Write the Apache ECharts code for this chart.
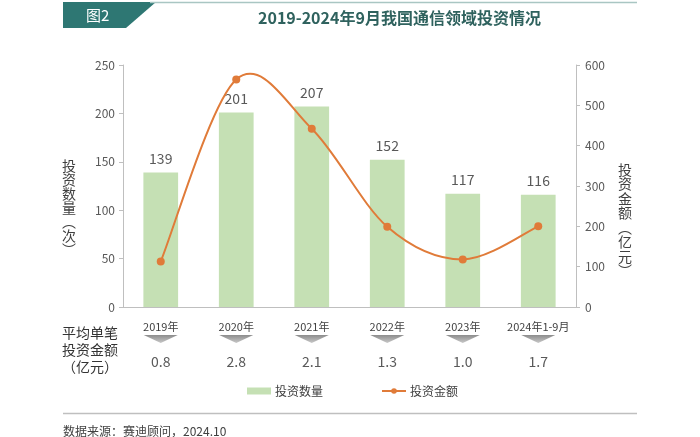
<!DOCTYPE html>
<html><head><meta charset="utf-8">
<script src="https://cdn.jsdelivr.net/npm/echarts@6/dist/echarts.min.js"></script>
<style>html,body{margin:0;padding:0;background:#fff}#c{width:700px;height:437px}</style>
</head><body><div id="c"></div>
<script>
const categories = ['2019年','2020年','2021年','2022年','2023年','2024年1-9月'];
const dealCount = [139, 201, 207, 152, 117, 116];
const dealAmount = [113, 564, 442, 199, 118, 200];
const avgAmount = ['0.8','2.8','2.1','1.3','1.0','1.7'];
const leftTicks = {min:0, max:250, interval:50};
const rightTicks = {min:0, max:600, interval:100};

const FONT = '"Noto Sans CJK SC", "Noto Sans", sans-serif';
const ORANGE = '#E07B39';
const chart = echarts.init(document.getElementById('c'));
chart.setOption({
  animation: false,
  textStyle: {fontFamily: FONT},
  title: {
    text: '2019-2024年9月我国通信领域投资情况',
    left: 253, top: 5,
    textStyle: {fontSize: 16, fontWeight: 'bold', color: '#2F625E', fontFamily: FONT}
  },
  legend: {
    left: 242, top: 380, itemWidth: 24, itemHeight: 7, itemGap: 58,
    textStyle: {fontSize: 12, color: '#404040', padding: [0,0,0,-1]},
    data: [{name:'投资数量', icon:'rect'},
           {name:'投资金额', lineStyle: {color: ORANGE, width: 2, opacity: 1}}]
  },
  grid: {left: 123, right: 124, top: 65, bottom: 130},
  xAxis: {
    type: 'category', data: categories,
    axisLine: {lineStyle: {color: '#BFBFBF'}},
    axisTick: {show: false},
    axisLabel: {color: '#404040', fontSize: 11, margin: 14, interval: 0}
  },
  yAxis: [
    {type: 'value', ...leftTicks,
     axisLine: {show: true, lineStyle: {color: '#BFBFBF'}},
     axisTick: {show: true, length: 4, lineStyle: {color: '#BFBFBF'}},
     splitLine: {show: false},
     axisLabel: {color: '#595959', fontSize: 12, margin: 8}},
    {type: 'value', ...rightTicks,
     axisLine: {show: true, lineStyle: {color: '#BFBFBF'}},
     axisTick: {show: true, length: 4, lineStyle: {color: '#BFBFBF'}},
     splitLine: {show: false},
     axisLabel: {color: '#595959', fontSize: 12, margin: 9}}
  ],
  series: [
    {name: '投资数量', type: 'bar', data: dealCount, barWidth: '46%',
     itemStyle: {color: '#C5E0B4'},
     label: {show: true, position: 'top', distance: 7, fontSize: 14, color: '#595959'}},
    {name: 'curve', type: 'custom', yAxisIndex: 1, data: dealAmount.map((v,i)=>[i, v]),
     silent: true, z: 3, clip: false,
     renderItem: function(params, api){
       const i = params.dataIndex, n = dealAmount.length;
       if (i >= n - 1) return null;
       const P = k => api.coord([Math.max(0, Math.min(n-1, k)), dealAmount[Math.max(0, Math.min(n-1, k))]]);
       const p0 = P(i-1), p1 = P(i), p2 = P(i+1), p3 = P(i+2);
       const c1 = [p1[0] + (p2[0]-p0[0])/6, p1[1] + (p2[1]-p0[1])/6];
       const c2 = [p2[0] - (p3[0]-p1[0])/6, p2[1] - (p3[1]-p1[1])/6];
       return {type: 'bezierCurve',
         shape: {x1: p1[0], y1: p1[1], cpx1: c1[0], cpy1: c1[1], cpx2: c2[0], cpy2: c2[1], x2: p2[0], y2: p2[1]},
         style: {stroke: ORANGE, lineWidth: 2, fill: null}};
     }},
    {name: '投资金额', type: 'line', yAxisIndex: 1, data: dealAmount, z: 4,
     symbol: 'circle', symbolSize: 8,
     lineStyle: {color: ORANGE, width: 2, opacity: 0},
     itemStyle: {color: ORANGE}},
    {name: 'avg', type: 'custom', data: avgAmount.map((v,i)=>[i, v]), clip: false,
     silent: true, z: 5,
     renderItem: function(params, api){
       const p = api.coord([api.value(0), 0]);
       const x = p[0], y = p[1];
       return {type: 'group', children: [
         {type: 'polygon', shape: {points: [[x-17, y+28],[x+17, y+28],[x, y+36]]},
          style: {fill: new echarts.graphic.LinearGradient(0,0,0,1,[{offset:0,color:'#8C8C8C'},{offset:1,color:'#C8C8C8'}])}},
         {type: 'text', x: x, y: y+55,
          style: {text: avgAmount[params.dataIndex], fill: '#595959', fontSize: 14, align: 'center', verticalAlign: 'middle', fontFamily: FONT}}
       ]};
     }}
  ],
  graphic: [
    {type: 'polygon', shape: {points: [[63,2],[156,2],[126,28],[63,28]]}, style: {fill: '#2E7773'}},
    {type: 'line', shape: {x1: 150, y1: 2.5, x2: 637, y2: 2.5}, style: {stroke: '#A9C6C3', lineWidth: 1.5}},
    {type: 'text', x: 86, y: 15, style: {text: '图2', fill: '#fff', fontSize: 15, verticalAlign: 'middle', fontFamily: FONT}},
    {type: 'text', x: 69, y: 208, style: {text: '投\n资\n数\n量\n︵\n次\n︶', fill: '#404040', fontSize: 14, lineHeight: 14, align: 'center', verticalAlign: 'middle', fontFamily: FONT}},
    {type: 'text', x: 625, y: 220, style: {text: '投\n资\n金\n额\n︵\n亿\n元\n︶', fill: '#404040', fontSize: 14, lineHeight: 14.5, align: 'center', verticalAlign: 'middle', fontFamily: FONT}},
    {type: 'text', x: 90, y: 350, style: {text: '平均单笔\n投资金额\n（亿元）', fill: '#333', fontSize: 14, lineHeight: 17, align: 'center', verticalAlign: 'middle', fontFamily: FONT}},
    {type: 'line', shape: {x1: 63, y1: 413.5, x2: 637, y2: 413.5}, style: {stroke: '#BFBFBF', lineWidth: 1.5}},
    {type: 'text', x: 63, y: 431, style: {text: '数据来源：赛迪顾问，2024.10', fill: '#404040', fontSize: 12, verticalAlign: 'middle', fontFamily: FONT}}
  ]
});
</script></body></html>
